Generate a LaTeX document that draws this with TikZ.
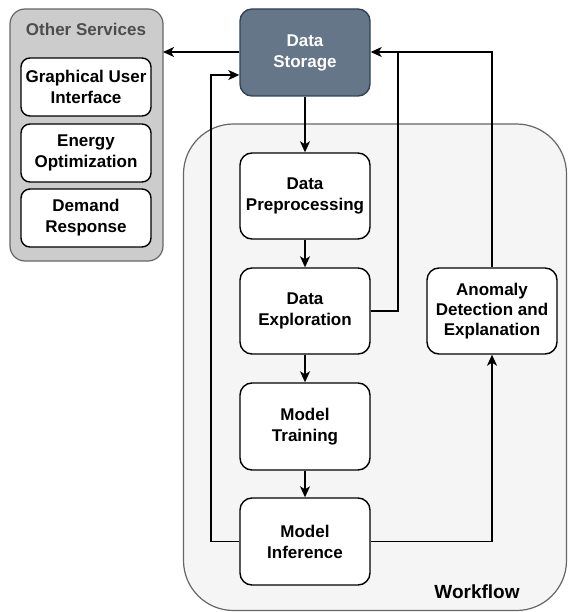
\documentclass[tikz,border=0pt]{standalone}
\usepackage{fontspec}
\setmainfont{Liberation Sans}
\usetikzlibrary{arrows.meta}
\definecolor{svcfill}{HTML}{CCCCCC}
\definecolor{wffill}{HTML}{F5F5F5}
\definecolor{grayline}{HTML}{666666}
\definecolor{dsfill}{HTML}{647687}
\definecolor{dsline}{HTML}{314354}
\definecolor{titlegray}{HTML}{4D4D4D}
\tikzset{
  lbl/.style={font=\fontsize{17}{21}\selectfont\bfseries, align=center},
  svcbox/.style={lbl, draw=black, fill=white, line width=1.4pt, rounded corners=9pt,
    minimum width=130pt, minimum height=58pt, inner sep=0pt},
  wfbox/.style={lbl, draw=black, fill=white, line width=1.4pt, rounded corners=12pt,
    minimum width=130pt, minimum height=86pt, inner sep=0pt},
  conn/.style={line width=1.4pt, -{Stealth[length=11pt,width=10pt,inset=3pt]}},
  plain/.style={line width=1.4pt}
}
\begin{document}
\begin{tikzpicture}[x=1pt,y=-1pt]
\useasboundingbox (0,0) rectangle (567,612);
% containers
\draw[draw=grayline, fill=svcfill, line width=1.2pt, rounded corners=15pt] (10,9) rectangle (163,261);
\node[lbl, text=titlegray] (svctitle) at (86,29) {Other Services};
\draw[draw=grayline, fill=wffill, line width=1.2pt, rounded corners=50pt] (183.5,124) rectangle (566.5,610.5);
\node[font=\fontsize{19}{22}\selectfont\bfseries] (wftitle) at (477,592) {Workflow};
% services
\node[svcbox] (gui) at (86,87) {Graphical User\\Interface};
\node[svcbox] (energy) at (86,153) {Energy\\Optimization};
\node[svcbox] (demand) at (86,218) {Demand\\Response};
% storage
\node[wfbox, fill=dsfill, draw=dsline, text=white, minimum height=87pt] (storage) at (305,52.5) {Data\\Storage};
% workflow boxes
\node[wfbox] (prep) at (305,196) {Data\\Preprocessing};
\node[wfbox] (explore) at (305,311) {Data\\Exploration};
\node[wfbox, minimum height=87pt] (train) at (305,426.5) {Model\\Training};
\node[wfbox, minimum height=87pt] (infer) at (305,541.5) {Model\\Inference};
\node[wfbox, font=\fontsize{17}{20}\selectfont\bfseries] (anomaly) at (492,311) {Anomaly\\Detection and\\Explanation};
% connectors
\coordinate (svcright) at (163,52);
\draw[conn] (storage.west |- 0,52) -- (svcright);
\draw[conn] (storage.south) -- (prep.north);
\draw[conn] (prep.south) -- (explore.north);
\draw[conn] (explore.south) -- (train.north);
\draw[conn] (train.south) -- (infer.north);
\draw[conn] (infer.west) -- (211,541.5) -- (211,75) -- (storage.west |- 0,75);
\draw[plain] (explore.east) -- (398,311) -- (398,52);
\draw[conn] (anomaly.north) -- (492,52) -- (storage.east |- 0,52);
\draw[conn] (infer.east) -- (492,541.5) -- (anomaly.south);
\end{tikzpicture}
\end{document}
